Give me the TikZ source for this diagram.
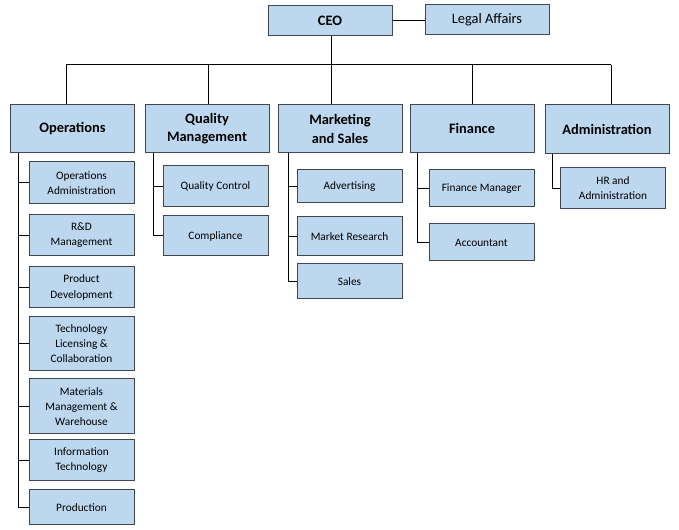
\documentclass[tikz,border=0pt]{standalone}
\usepackage{fontspec}
\setmainfont{Carlito}
\usetikzlibrary{positioning}
\definecolor{boxFill}{HTML}{BDD7EE}
\definecolor{boxLine}{HTML}{3E4654}
\tikzset{
  every node/.style={font=\fontsize{8.5}{11.3}\selectfont},
  link/.style={draw=black, line width=0.75pt},
  box/.style={draw=boxLine, fill=boxFill, line width=0.75pt, align=center,
              inner sep=2pt, minimum width=78.75pt},
  head/.style={box, minimum width=93pt, minimum height=36pt,
               font=\fontsize{10.8}{13.7}\selectfont\bfseries},
  top/.style={box, minimum width=93pt, minimum height=22.5pt},
}

\begin{document}
\begin{tikzpicture}[x=0.75pt, y=-0.75pt]
  \useasboundingbox (0,0) rectangle (679,530);
  % --- top level ---
  \node[top, font=\fontsize{10.8}{13.7}\selectfont\bfseries] (ceo) at (330,21) {CEO};
  \node[top, font=\fontsize{10.8}{13.7}\selectfont] (legal) at (487,20) {Legal Affairs};
  \draw[link] (ceo.east) -- (ceo.east -| legal.west);
  % --- departments ---
  \node[head] (ops)  at (72.5,129) {Operations};
  \node[head] (qual) at (207,129)  {Quality\\Management};
  \node[head] (mkt)  at (340,129)  {Marketing\\and Sales};
  \node[head] (fin)  at (472,129)  {Finance};
  \node[head, minimum height=36.75pt] (adm) at (607,129.5) {Administration};
  % bus under the CEO
  \coordinate (busOps)  at (66,65);
  \coordinate (busQual) at (208,65);
  \coordinate (busMkt)  at (331,65);
  \coordinate (busFin)  at (472,65);
  \coordinate (busAdm)  at (611,65);
  \draw[link] (busOps) -- (busAdm);
  \draw[link] (ceo.south -| busMkt) -- (busMkt);
  \foreach \b/\d in {busOps/ops, busQual/qual, busMkt/mkt, busFin/fin, busAdm/adm} {
    \draw[link] (\b) -- (\b |- \d.north);
  }
  % --- Operations ---
  \node[box, minimum height=31.5pt]  (opsAdm)  at (81.5,183)   {Operations\\Administration};
  \node[box, minimum height=30.75pt] (rnd)     at (81.5,235.5) {R\&D\\Management};
  \node[box, minimum height=30.75pt] (prodDev) at (81.5,287.5) {Product\\Development};
  \node[box, minimum height=40.5pt]  (techLic) at (81.5,344)   {Technology\\Licensing \&\\Collaboration};
  \node[box, minimum height=41.25pt] (matMgmt) at (81.5,406.5) {Materials\\Management \&\\Warehouse};
  \node[box, minimum height=30.75pt] (infoTec) at (81.5,460.5) {Information\\Technology};
  \node[box, minimum height=26.25pt] (prodn)   at (81.5,507.5) {Production};
  \foreach \c in {opsAdm, rnd, prodDev, techLic, matMgmt, infoTec, prodn} {
    \draw[link] ([xshift=6pt]ops.south west) |- (\c.west);
  }
  % --- Quality Management ---
  \node[box, minimum height=30.75pt] (qc)    at (215.5,186.5) {Quality Control};
  \node[box, minimum height=30pt]    (compl) at (215.5,236)   {Compliance};
  \foreach \c in {qc, compl} {
    \draw[link] ([xshift=6.75pt]qual.south west) |- (\c.west);
  }
  % --- Marketing and Sales ---
  \node[box, minimum height=24.75pt] (advert) at (349.5,186.5) {Advertising};
  \node[box, minimum height=29.25pt] (mktRes) at (349.5,236.5) {Market Research};
  \node[box, minimum height=26.25pt] (sales)  at (349.5,281.5) {Sales};
  \foreach \c in {advert, mktRes, sales} {
    \draw[link] ([xshift=8.25pt]mkt.south west) |- (\c.west);
  }
  % --- Finance ---
  \node[box, minimum height=27.75pt] (finMgr) at (481.5,188.5) {Finance Manager};
  \node[box, minimum height=27.75pt] (acct)   at (481.5,242.5) {Accountant};
  \foreach \c in {finMgr, acct} {
    \draw[link] ([xshift=6pt]fin.south west) |- (\c.west);
  }
  % --- Administration ---
  \node[box, minimum height=30.75pt] (hrAdm) at (613,188.5) {HR and\\Administration};
  \draw[link] ([xshift=6pt]adm.south west) |- (hrAdm.west);
\end{tikzpicture}
\end{document}
